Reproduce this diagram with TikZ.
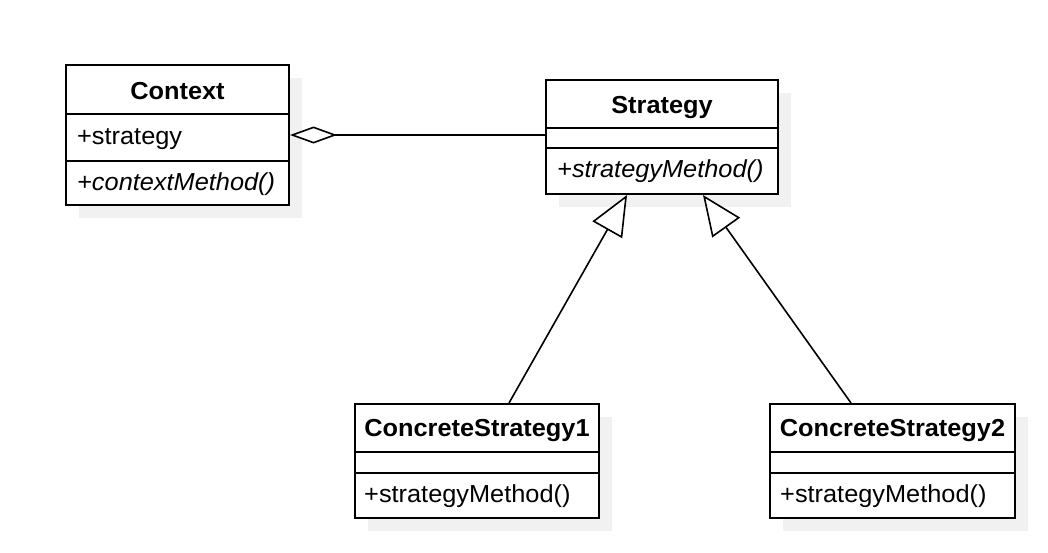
\documentclass[tikz,border=0pt]{standalone}
\usepackage{fontspec}
\setmainfont{Liberation Sans}[FakeStretch=1.03]
\usetikzlibrary{arrows.meta,calc}
\definecolor{shadowgray}{HTML}{F1F1F1}
\tikzset{
  classbox/.style={draw=black, line width=2pt, fill=white, anchor=north west, inner sep=0pt},
  title/.style={font=\fontsize{24.6}{28}\selectfont\bfseries, inner sep=0pt, anchor=base},
  member/.style={font=\fontsize{24.6}{28}\selectfont, inner sep=0pt, anchor=base west},
  divider/.style={line width=2pt},
  conn/.style={line width=1.6pt},
}
\begin{document}
\begin{tikzpicture}[x=1pt,y=-1pt]
\useasboundingbox (0,0) rectangle (1048,552);
% shadows
\fill[shadowgray] (79,78) rectangle (302,218);
\fill[shadowgray] (559,93) rectangle (791,207);
\fill[shadowgray] (368,417) rectangle (612,531);
\fill[shadowgray] (783,417) rectangle (1028,531);
% Context
\node[classbox, minimum width=223pt, minimum height=140pt] (ctx) at (65,64) {};
\draw[divider] (ctx.north west |- 0,114) -- (ctx.north east |- 0,114);
\draw[divider] (ctx.north west |- 0,161) -- (ctx.north east |- 0,161);
\node[title] (ctxT) at (ctx.north |- 0,99) {Context};
\node[member] (ctxA) at (77,144) {+strategy};
\node[member] (ctxM) at (77,190) {\itshape +contextMethod()};
% Strategy
\node[classbox, minimum width=232pt, minimum height=114pt] (str) at (545,79) {};
\draw[divider] (str.north west |- 0,128) -- (str.north east |- 0,128);
\draw[divider] (str.north west |- 0,148) -- (str.north east |- 0,148);
\node[title] (strT) at (str.north |- 0,113) {Strategy};
\node[member] (strM) at (557,177) {\itshape +strategyMethod()};
% ConcreteStrategy1
\node[classbox, minimum width=244pt, minimum height=114pt] (cs1) at (354,403) {};
\draw[divider] (cs1.north west |- 0,452) -- (cs1.north east |- 0,452);
\draw[divider] (cs1.north west |- 0,473) -- (cs1.north east |- 0,473);
\node[title] (cs1T) at (cs1.north |- 0,436) {ConcreteStrategy1};
\node[member] (cs1M) at (364,502) {+strategyMethod()};
% ConcreteStrategy2
\node[classbox, minimum width=245pt, minimum height=114pt] (cs2) at (769,403) {};
\draw[divider] (cs2.north west |- 0,452) -- (cs2.north east |- 0,452);
\draw[divider] (cs2.north west |- 0,473) -- (cs2.north east |- 0,473);
\node[title] (cs2T) at (cs2.north |- 0,436) {ConcreteStrategy2};
\node[member] (cs2M) at (780,502) {+strategyMethod()};
% connectors
\coordinate (aggEnd) at (ctx.east -| str.west);
\draw[conn, {Diamond[open, fill=white, length=47pt, width=17pt, line width=1.6pt]}-] (ctx.east) -- (aggEnd);
\coordinate (s1) at ($(str.south)+(-35,0)$);
\coordinate (s2) at ($(str.south)+(41,0)$);
\coordinate (c1) at ($(cs1.north)+(32,0)$);
\coordinate (c2) at ($(cs2.north)+(-41.5,0)$);
\draw[conn, -{Triangle[open, fill=white, length=40pt, width=34pt, line width=1.6pt]}] (c1) -- (s1);
\draw[conn, -{Triangle[open, fill=white, length=40pt, width=34pt, line width=1.6pt]}] (c2) -- (s2);
\end{tikzpicture}
\end{document}
